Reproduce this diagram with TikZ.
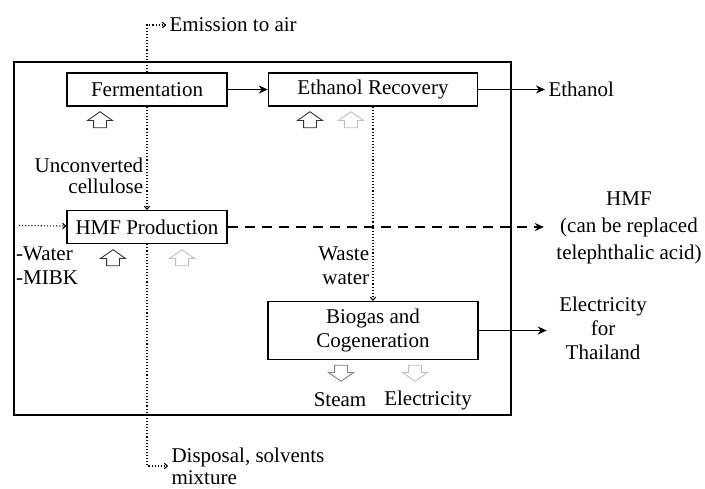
\documentclass[tikz,border=0pt]{standalone}
\usepackage{fontspec}
\setmainfont{Liberation Serif}
\usetikzlibrary{shapes.arrows,positioning,arrows.meta}
\tikzset{process/.style={draw,line width=1.5pt,minimum height=33pt,inner sep=2pt}}
\tikzset{flow/.style={line width=1.5pt,-{Stealth[length=9pt,width=8pt]}}}
\tikzset{side flow/.style={line width=1.1pt,dotted,-{To[length=4pt,width=6pt]}}}
\tikzset{product flow/.style={line width=1.5pt,dash pattern=on 10pt off 7pt,-{Stealth[length=9pt,width=8pt]}}}
\tikzset{utility in/.style={single arrow,draw=black!80,line width=0.9pt,fill=white,shape border rotate=90,
  minimum height=16pt,single arrow head extend=6pt,single arrow tip angle=110,inner xsep=6pt,inner ysep=3pt}}
\tikzset{utility out/.style={utility in,draw=gray,shape border rotate=270}}
\tikzset{faint/.style={draw=gray!50}}

\begin{document}
\begin{tikzpicture}[x=1pt,y=-1pt,font=\fontsize{21}{24}\selectfont]
\useasboundingbox (0,0) rectangle (705,488);
%\fill[white] (0,0) rectangle (705,488);

% system boundary
\draw[line width=2pt] (14,62) rectangle (511,415);

\node[process,minimum width=160pt] (ferm) at (147,89.5) {Fermentation};
\node[process,minimum width=209pt] (recov) [right=40pt of ferm] {Ethanol Recovery};
\node[process,minimum width=160pt] (hmf) [below=103pt of ferm] {HMF Production};
\node[process,minimum width=210pt,minimum height=58pt,align=center] (biogas) [below=194pt of recov] {Biogas and\\Cogeneration};

% utilities
\node[utility in] (uferm) at (100,122) {};
\node[utility in] (urecov) at (310,122) {};
\node[utility in,faint] (urecovb) at (351,122) {};
\node[utility in] (uhmf) at (113,260) {};
\node[utility in,faint] (uhmfb) at (182,260) {};
\node[utility out] (ubio) at (341,371) {};
\node[utility out,faint] (ubiob) at (415,371) {};

% outside texts
\node[anchor=west] (ethanol) at (545,89.5) {Ethanol};
\node[align=center,font=\fontsize{21}{27}\selectfont] (hmfout) at (629,228) {HMF\\(can be replaced\\telephthalic acid)};
\node[align=center] (elec) at (603,328) {Electricity\\for\\Thailand};
\node[anchor=west] (emis) at (166,25) {Emission to air};
\node[anchor=west,align=left,font=\fontsize{21}{22}\selectfont] (disp) at (168,466) {Disposal, solvents\\mixture};
\node[anchor=west,align=left,inner sep=1pt] (solv) at (15,265.5) {-Water\\-MIBK};
\node (steam) at (340,400) {Steam};
\node (power) at (428,400) {Electricity};

\coordinate (emtop) at (ferm.north |- emis);
\coordinate (dispturn) at (hmf.south |- disp);
\coordinate (feed) at (19,225.5);

%Main flows

\draw[flow] (ferm) -- (recov);
\draw[flow] (recov) -- (ethanol);
\draw[flow,shorten >=9pt] (biogas) -- (biogas.east -| elec.west);
\draw[product flow,shorten >=9pt] (hmf) -- (hmf.east -| hmfout.west);

%Side streams

\draw[side flow] (ferm.north) -- (emtop) -- (emis);
\draw[side flow] (ferm) -- (hmf) node[pos=0.67,left,align=right,font=\fontsize{21}{21}\selectfont] {Unconverted\\cellulose};
\draw[side flow] (hmf) -- (dispturn) -- (disp);
\draw[side flow] (feed) -- (hmf);
\draw[side flow] (recov) -- (biogas) node[pos=0.82,left,align=right] {Waste\\water};

\end{tikzpicture}
\end{document}
